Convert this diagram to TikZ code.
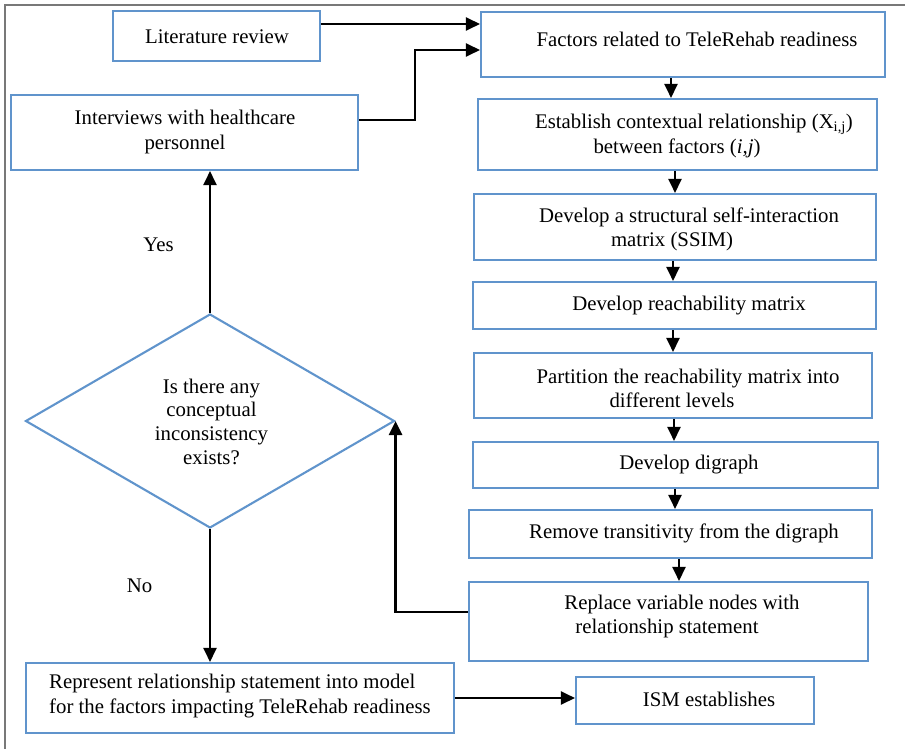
\documentclass[tikz,border=0pt]{standalone}
\usepackage{fontspec}
\setmainfont{Liberation Serif}
\usetikzlibrary{arrows.meta,shapes.geometric}
\definecolor{boxblue}{RGB}{96,148,204}
\definecolor{framegray}{RGB}{120,120,120}
\begin{document}
\begin{tikzpicture}[x=1pt,y=-1pt,
  stepbox/.style={draw=boxblue, line width=2.1pt, rectangle, inner sep=0pt},
  decision/.style={draw=boxblue, line width=2.1pt, diamond, inner sep=0pt},
  txt/.style={font=\fontsize{20.8}{24.5}\selectfont, align=center, inner sep=0pt},
  arr/.style={draw=black, line width=2.4pt, -{Triangle[length=14pt,width=13pt]}},
  conn/.style={draw=black, line width=2.4pt}]
\useasboundingbox (0,0) rectangle (905,749);
\fill[white] (0,0) rectangle (905,749);

% outer frame (top and left edges)
\draw[framegray, line width=1.4pt] (905,5) -- (5,5) -- (5,749);

% boxes
\node[stepbox, minimum width=207pt, minimum height=50pt] (lit) at (216.5,36) {};
\node[stepbox, minimum width=347pt, minimum height=75pt] (int) at (184.5,132.5) {};
\node[stepbox, minimum width=404pt, minimum height=65pt] (fac) at (683,44.5) {};
\node[stepbox, minimum width=399pt, minimum height=71pt] (est) at (677.5,134.5) {};
\node[stepbox, minimum width=402pt, minimum height=66pt] (ssim) at (675,227) {};
\node[stepbox, minimum width=403pt, minimum height=47pt] (rea) at (674.5,305.5) {};
\node[stepbox, minimum width=398pt, minimum height=65pt] (par) at (673,385.5) {};
\node[stepbox, minimum width=405pt, minimum height=46pt] (dig) at (675.5,465) {};
\node[stepbox, minimum width=403pt, minimum height=48pt] (rem) at (670.5,534) {};
\node[stepbox, minimum width=399pt, minimum height=79pt] (rep) at (668.5,621.5) {};
\node[stepbox, minimum width=238pt, minimum height=47pt] (ism) at (695,700.5) {};
\node[stepbox, minimum width=428pt, minimum height=70pt] (mod) at (240,698) {};
\node[decision, minimum width=369pt, minimum height=214pt] (dia) at (210,421) {};

% box texts
\node[txt] (tlit) at (217,37) {Literature review};
\node[txt] (tint) at (185,132) {Interviews with healthcare\\personnel};
\node[txt] (tfac) at (697,39) {Factors related to TeleRehab readiness};
\node[txt] (test) at (677,136) {\hspace*{34pt}Establish contextual relationship (X\textsubscript{i,j})\\between factors (\textit{i,j})};
\node[txt] (tssim) at (672,229.5) {\hspace*{34pt}Develop a structural self-interaction\\matrix (SSIM)};
\node[txt] (trea) at (689,306) {Develop reachability matrix};
\node[txt] (tpar) at (672,388.5) {\hspace*{32pt}Partition the reachability matrix into\\different levels};
\node[txt] (tdig) at (689,465) {Develop digraph};
\node[txt] (trem) at (684,533) {Remove transitivity from the digraph};
\node[txt] (trep) at (667,616.5) {\hspace*{30pt}Replace variable nodes with\\relationship statement};
\node[txt] (tism) at (709,699) {ISM establishes};
\node[txt, align=left, anchor=west] (tmod) at (49,696) {Represent relationship statement into model\\for the factors impacting TeleRehab readiness};
\node[txt, font=\fontsize{20.8}{23.7}\selectfont] (tdia) at (211.5,421.5) {Is there any\\conceptual\\inconsistency\\exists?};
\node[txt] (yes) at (158.5,245) {Yes};
\node[txt] (no) at (139.5,586) {No};

% connectors into the factor list
\draw[arr] ([yshift=12pt]lit.east) -- ([yshift=20.5pt]fac.west);
\draw[arr] ([yshift=12.5pt]int.east) -- (415,120) -- (415,50) -- ([yshift=-5.5pt]fac.west);

% main chain on the right
\draw[arr] ([xshift=-12pt]fac.south) -- ([xshift=-6.5pt]est.north);
\draw[arr] ([xshift=-2.5pt]est.south) -- (ssim.north);
\draw[arr] ([xshift=-2pt]ssim.south) -- ([xshift=-1.5pt]rea.north);
\draw[arr] ([xshift=-1.5pt]rea.south) -- (par.north);
\draw[arr] ([xshift=1pt]par.south) -- ([xshift=-1.5pt]dig.north);
\draw[arr] ([xshift=-0.5pt]dig.south) -- ([xshift=4.5pt]rem.north);
\draw[arr] ([xshift=8.5pt]rem.south) -- ([xshift=10.5pt]rep.north);

% feedback to the consistency check
\draw[arr] ([yshift=9.5pt]rep.west) -| (dia.east);

% decision outcomes
\draw[arr] (dia.north) -- (dia.north |- int.south);
\draw[arr] (dia.south) -- (dia.south |- mod.north);
\draw[arr] (mod.east) -- (mod.east -| ism.west);
\end{tikzpicture}
\end{document}
